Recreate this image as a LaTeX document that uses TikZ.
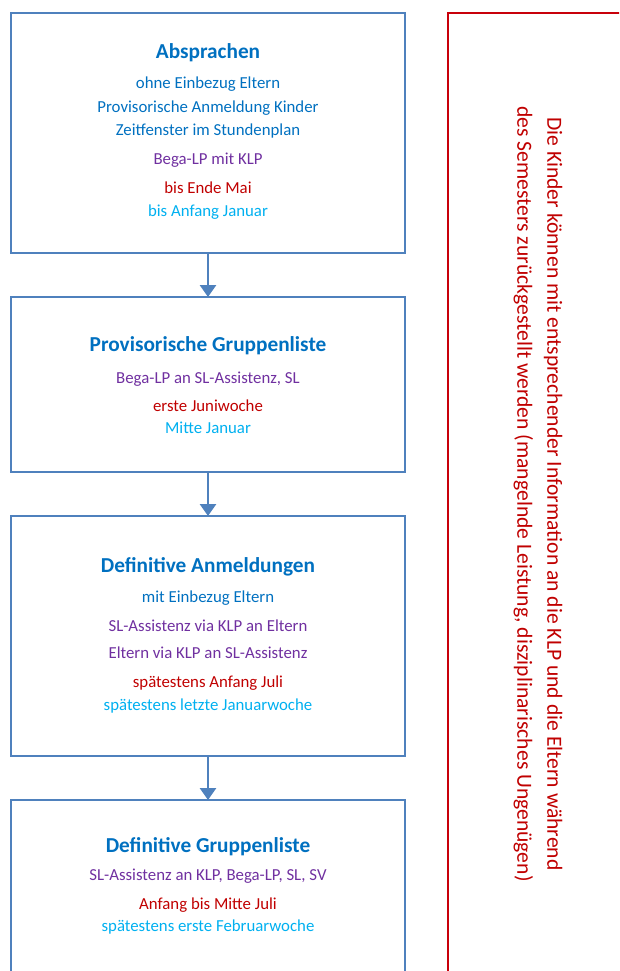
\documentclass[tikz,border=0pt]{standalone}
\usepackage{fontspec}
\setmainfont{Carlito}
\usepackage{tikz}
\usetikzlibrary{arrows.meta,positioning}
\definecolor{boxblue}{HTML}{4F81BD}
\definecolor{txtblue}{HTML}{0070C0}
\definecolor{txtpurple}{HTML}{7030A0}
\definecolor{txtred}{HTML}{C00000}
\definecolor{txtcyan}{HTML}{00B0F0}
\definecolor{notered}{HTML}{C8000A}
\tikzset{
  mybox/.style = {rectangle, draw=boxblue, line width=2.8pt, minimum width=394pt, anchor=north west, inner sep=0pt, outer sep=0pt},
  mytitle/.style = {anchor=base, text=txtblue, font=\fontsize{21.3}{25}\selectfont\bfseries},
  myline/.style = {anchor=base, font=\fontsize{16.8}{20}\selectfont},
  myarrow/.style = {-{Triangle[width=16pt,length=12pt]}, draw=boxblue, line width=2.8pt},
  mynote/.style = {rectangle, draw=notered, line width=2.8pt, anchor=north west, inner sep=0pt, outer sep=0pt},
  mynotetext/.style = {align=center, text=txtred, rotate=-90, font=\fontsize{21.6}{30}\selectfont},
}

\begin{document}
\begin{tikzpicture}[x=1pt,y=-1pt]
\def\C{208}
\useasboundingbox (0,0) rectangle (619,971);
\clip (0,0) rectangle (619,971);
% boxes
\node[mybox, minimum height=240pt] (absprachen) at (11,13) {};
\node[mybox, minimum height=175pt] (provliste) at (11,297) {};
\node[mybox, minimum height=240pt] (anmeldung) at (11,516) {};
\node[mybox, minimum height=200pt] (defliste) at (11,800) {};
\node[mynote, minimum width=200pt, minimum height=1000pt] (hinweis) at (448,13) {};
% arrows
\draw[myarrow] (absprachen.south) -- (provliste.north);
\draw[myarrow] (provliste.south) -- (anmeldung.north);
\draw[myarrow] (anmeldung.south) -- (defliste.north);
% Absprachen
\node[mytitle] (t1) at (\C,59) {Absprachen};
\node[myline, text=txtblue] (t1a) at (\C,88.5) {ohne Einbezug Eltern};
\node[myline, text=txtblue] (t1b) at (\C,112.5) {Provisorische Anmeldung Kinder};
\node[myline, text=txtblue] (t1c) at (\C,135.5) {Zeitfenster im Stundenplan};
\node[myline, text=txtpurple] (t1d) at (\C,164.5) {Bega-LP mit KLP};
\node[myline, text=txtred] (t1e) at (\C,193.5) {bis Ende Mai};
\node[myline, text=txtcyan] (t1f) at (\C,216.5) {bis Anfang Januar};
% Provisorische Gruppenliste
\node[mytitle] (t2) at (\C,351.5) {Provisorische Gruppenliste};
\node[myline, text=txtpurple] (t2a) at (\C,383) {Bega-LP an SL-Assistenz, SL};
\node[myline, text=txtred] (t2b) at (\C,411) {erste Juniwoche};
\node[myline, text=txtcyan] (t2c) at (\C,433) {Mitte Januar};
% Definitive Anmeldungen
\node[mytitle] (t3) at (\C,572) {Definitive Anmeldungen};
\node[myline, text=txtblue] (t3a) at (\C,602.5) {mit Einbezug Eltern};
\node[myline, text=txtpurple] (t3b) at (\C,631.5) {SL-Assistenz via KLP an Eltern};
\node[myline, text=txtpurple] (t3c) at (\C,658.5) {Eltern via KLP an SL-Assistenz};
\node[myline, text=txtred] (t3d) at (\C,687.5) {spätestens Anfang Juli};
\node[myline, text=txtcyan] (t3e) at (\C,710.5) {spätestens letzte Januarwoche};
% Definitive Gruppenliste
\node[mytitle] (t4) at (\C,852) {Definitive Gruppenliste};
\node[myline, text=txtpurple] (t4a) at (\C,880.5) {SL-Assistenz an KLP, Bega-LP, SL, SV};
\node[myline, text=txtred] (t4b) at (\C,909) {Anfang bis Mitte Juli};
\node[myline, text=txtcyan] (t4c) at (\C,931.5) {spätestens erste Februarwoche};
% Hinweis
\node[mynotetext] (hinweistext) at (538,494) {Die Kinder können mit entsprechender Information an die KLP und die Eltern während\\des Semesters zurückgestellt werden (mangelnde Leistung, disziplinarisches Ungenügen)};
\end{tikzpicture}
\end{document}
